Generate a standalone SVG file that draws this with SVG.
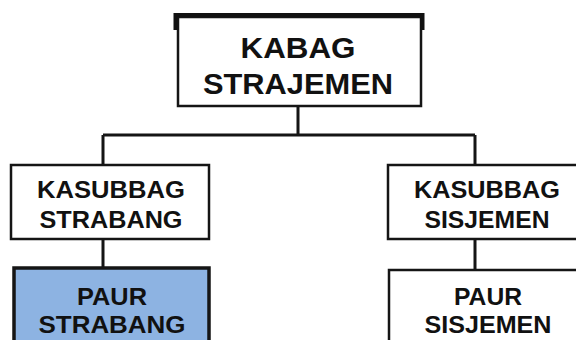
<svg xmlns="http://www.w3.org/2000/svg" width="576" height="340" viewBox="0 0 576 340">
<style>
text{font-family:"Liberation Sans",Arial,sans-serif;font-weight:bold;fill:#111;text-anchor:middle}
.t1{font-size:29px}
.t2{font-size:23px}
.box{fill:#fff;stroke:#151515;stroke-width:2.5}
.con{stroke:#151515;stroke-width:3;fill:none}
</style>
<rect width="576" height="340" fill="#fff"/>
<g id="connectors">
<path class="con" d="M298 106V135M103 135H475M103 135V165M475 135V165M103 239V268M475 239V270"/>
</g>
<g id="kabag">
<rect class="box" x="178" y="17" width="243" height="89" stroke-width="3"/>
<path d="M175.5 30V15H422.5V30" fill="none" stroke="#111" stroke-width="4"/>
<text class="t1" x="298" y="58" textLength="115" lengthAdjust="spacingAndGlyphs">KABAG</text>
<text class="t1" x="298" y="94" textLength="190" lengthAdjust="spacingAndGlyphs">STRAJEMEN</text>
</g>
<g id="kasubbag-strabang">
<rect class="box" x="11" y="165" width="198" height="74"/>
<text class="t2" x="111" y="198" textLength="148" lengthAdjust="spacingAndGlyphs">KASUBBAG</text>
<text class="t2" x="111" y="228" textLength="143" lengthAdjust="spacingAndGlyphs">STRABANG</text>
</g>
<g id="kasubbag-sisjemen">
<rect class="box" x="388" y="165" width="200" height="74"/>
<text class="t2" x="487" y="198" textLength="146" lengthAdjust="spacingAndGlyphs">KASUBBAG</text>
<text class="t2" x="487" y="228" textLength="125" lengthAdjust="spacingAndGlyphs">SISJEMEN</text>
</g>
<g id="paur-strabang">
<rect x="14" y="268" width="195" height="80" fill="#8db3e2" stroke="#151515" stroke-width="3.5"/>
<text class="t2" x="112" y="305" textLength="70" lengthAdjust="spacingAndGlyphs">PAUR</text>
<text class="t2" x="112" y="333" textLength="147" lengthAdjust="spacingAndGlyphs">STRABANG</text>
</g>
<g id="paur-sisjemen">
<rect class="box" x="389" y="270" width="200" height="80"/>
<text class="t2" x="488" y="305" textLength="68" lengthAdjust="spacingAndGlyphs">PAUR</text>
<text class="t2" x="488" y="333" textLength="127" lengthAdjust="spacingAndGlyphs">SISJEMEN</text>
</g>
</svg>
